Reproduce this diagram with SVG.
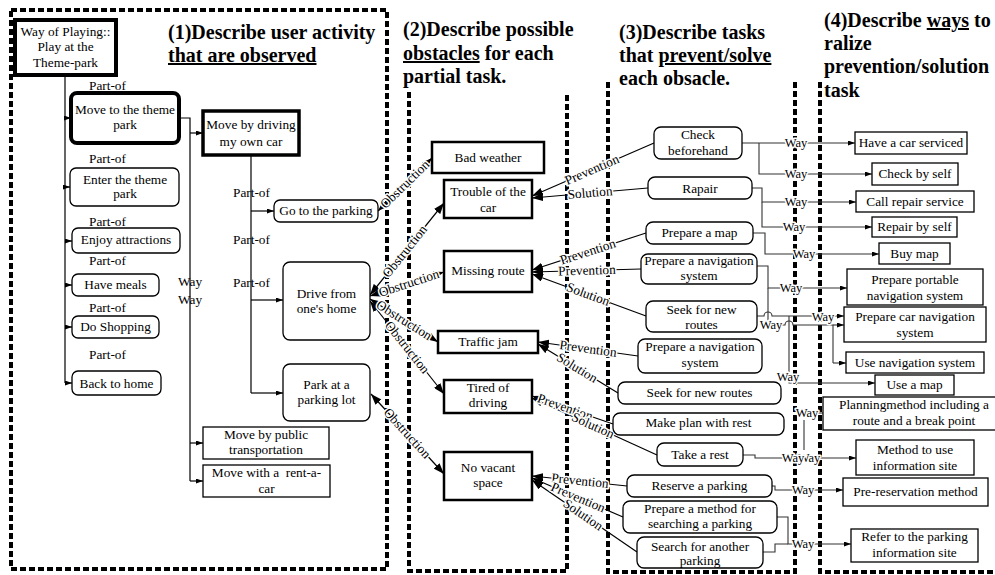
<svg xmlns="http://www.w3.org/2000/svg" width="995" height="575" viewBox="0 0 995 575">
<style>
.t{font-family:"Liberation Serif","Times New Roman",serif;font-size:13.3px;fill:#000}
.c{text-anchor:middle}
.h{font-family:"Liberation Serif","Times New Roman",serif;font-size:20px;font-weight:bold;fill:#000}
.u{text-decoration:underline}
.fr{fill:none;stroke:#000;stroke-width:4;stroke-dasharray:6 3}
.b{fill:#fff;stroke:#000;stroke-width:1.3}
.k4{stroke-width:4}
.k3{stroke-width:3.5}
.k2{stroke-width:2.5}
.ln{fill:none;stroke:#000;stroke-width:1.2}
.wl{fill:none;stroke:#333;stroke-width:1.1}
.lb{paint-order:stroke;stroke:#fff;stroke-width:3px;stroke-linejoin:round}
.wy{font-size:12.5px}
</style>
<defs>
<marker id="sa" viewBox="0 0 10 10" refX="10" refY="5" markerWidth="7" markerHeight="5" markerUnits="userSpaceOnUse" orient="auto" preserveAspectRatio="none"><path d="M0,0L10,5L0,10z" fill="#000"/></marker>
<marker id="ba" viewBox="0 0 10 10" refX="10" refY="5" markerWidth="11" markerHeight="8" markerUnits="userSpaceOnUse" orient="auto-start-reverse" preserveAspectRatio="none"><path d="M0,0L10,5L0,10z" fill="#000"/></marker>
</defs>
<rect width="995" height="575" fill="#fff"/>

<g id="frames">
<path class="fr" d="M11,10 H387 V569 H11 Z"/>
<path class="fr" d="M409,92 V571 H567 V92"/>
<path class="fr" d="M608,82 V572 H795 V82"/>
<path class="fr" d="M820,82 V572 H995"/>
</g>

<g id="titles">
<text class="h" x="168" y="39">(1)Describe user activity</text>
<text class="h u" x="168" y="62">that are observed</text>
<text class="h" x="403" y="36">(2)Describe possible</text>
<text class="h" x="403" y="60"><tspan class="u">obstacles</tspan> for each</text>
<text class="h" x="403" y="83">partial task.</text>
<text class="h" x="619" y="39">(3)Describe tasks</text>
<text class="h" x="619" y="62">that <tspan class="u">prevent/solve</tspan></text>
<text class="h" x="619" y="85">each obsacle.</text>
<text class="h" x="824" y="27">(4)Describe <tspan class="u">ways</tspan> to</text>
<text class="h" x="824" y="50">ralize</text>
<text class="h" x="824" y="73">prevention/solution</text>
<text class="h" x="824" y="97">task</text>
</g>

<g id="connectors">
<!-- tree -->
<path class="ln" d="M65,75 V383"/>
<path class="ln" marker-end="url(#sa)" d="M65,118 H71"/>
<path class="ln" marker-end="url(#sa)" d="M65,187 H70"/>
<path class="ln" marker-end="url(#sa)" d="M65,241 H72"/>
<path class="ln" marker-end="url(#sa)" d="M65,285 H72"/>
<path class="ln" marker-end="url(#sa)" d="M65,327 H72"/>
<path class="ln" marker-end="url(#sa)" d="M65,383 H72"/>
<path class="ln" d="M179,118 H190 V481"/>
<path class="ln" marker-end="url(#sa)" d="M190,133 H203"/>
<path class="ln" marker-end="url(#sa)" d="M190,443 H203"/>
<path class="ln" marker-end="url(#sa)" d="M190,481 H203"/>
<path class="ln" d="M251,155 V393"/>
<path class="ln" marker-end="url(#sa)" d="M251,211 H274"/>
<path class="ln" marker-end="url(#sa)" d="M251,300 H283"/>
<path class="ln" marker-end="url(#sa)" d="M251,393 H283"/>
<g class="t">
<text x="89" y="90">Part-of</text>
<text x="89" y="163">Part-of</text>
<text x="89" y="226">Part-of</text>
<text x="89" y="265">Part-of</text>
<text x="89" y="312">Part-of</text>
<text x="89" y="359">Part-of</text>
<text x="233" y="197">Part-of</text>
<text x="233" y="244">Part-of</text>
<text x="233" y="287">Part-of</text>
<text x="178" y="286">Way</text>
<text x="178" y="304">Way</text>
</g>

<!-- obstruction -->
<path class="ln" marker-start="url(#ba)" marker-end="url(#ba)" d="M378,211 L432,158"/>
<path class="ln" marker-start="url(#ba)" marker-end="url(#ba)" d="M370,295 L444,203"/>
<path class="ln" marker-start="url(#ba)" marker-end="url(#ba)" d="M370,296 L444,272"/>
<path class="ln" marker-start="url(#ba)" marker-end="url(#ba)" d="M370,299 L438,342"/>
<path class="ln" marker-start="url(#ba)" marker-end="url(#ba)" d="M370,301 L444,394"/>
<path class="ln" marker-start="url(#ba)" marker-end="url(#ba)" d="M371,394 L444,474"/>
<g class="t c lb">
<text transform="translate(405,184.5) rotate(-44.5)" y="4">Obstruction</text>
<text transform="translate(405,251.5) rotate(-51.2)" y="4">Obstruction</text>
<text transform="translate(409,283.4) rotate(-18)" y="4">Obstruction</text>
<text transform="translate(404,320.5) rotate(32.3)" y="4">Obstruction</text>
<text transform="translate(407,347.5) rotate(51.5)" y="4">Obstruction</text>
<text transform="translate(407,433.5) rotate(47.6)" y="4">Obstruction</text>
</g>

<!-- prevention / solution -->
<path class="ln" marker-end="url(#ba)" d="M654,143 L532,196"/>
<path class="ln" marker-end="url(#ba)" d="M648,188 L532,198"/>
<path class="ln" marker-end="url(#ba)" d="M646,233 L532,270"/>
<path class="ln" marker-end="url(#ba)" d="M641,269 L532,272"/>
<path class="ln" marker-end="url(#ba)" d="M646,316 L532,274"/>
<path class="ln" marker-end="url(#ba)" d="M638,356 L538,342"/>
<path class="ln" marker-end="url(#ba)" d="M618,393 L538,344"/>
<path class="ln" marker-end="url(#ba)" d="M613,424 L532,396"/>
<path class="ln" marker-end="url(#ba)" d="M657,455 L532,398"/>
<path class="ln" marker-end="url(#ba)" d="M627,486 L532,476"/>
<path class="ln" marker-end="url(#ba)" d="M623,517 L532,478"/>
<path class="ln" marker-end="url(#ba)" d="M637,552 L532,480"/>
<g class="t c lb">
<text transform="translate(592,170) rotate(-23.5)" y="4">Prevention</text>
<text transform="translate(590,193) rotate(-4.9)" y="4">Solution</text>
<text transform="translate(588,252) rotate(-18)" y="4">Prevention</text>
<text transform="translate(587,270.7) rotate(-1.6)" y="4">Prevention</text>
<text transform="translate(588,294.6) rotate(20.2)" y="4">Solution</text>
<text transform="translate(588,349) rotate(8)" y="4">Prevention</text>
<text transform="translate(577,368) rotate(31.5)" y="4">Solution</text>
<text transform="translate(565,407.4) rotate(19)" y="4">Prevention</text>
<text transform="translate(593,425.8) rotate(24.5)" y="4">Solution</text>
<text transform="translate(580,481) rotate(6)" y="4">Prevention</text>
<text transform="translate(578,497.7) rotate(23.2)" y="4">Prevention</text>
<text transform="translate(583,515) rotate(34.4)" y="4">Solution</text>
</g>

<!-- way -->
<path class="wl" marker-end="url(#sa)" d="M742,143 H855"/>
<path class="wl" marker-end="url(#sa)" d="M759,143 V174 H872"/>
<path class="wl" marker-end="url(#sa)" d="M752,188 H762 V202 H856"/>
<path class="wl" marker-end="url(#sa)" d="M762,202 V227 H872"/>
<path class="wl" marker-end="url(#sa)" d="M753,233 H765 V254 H879"/>
<path class="wl" marker-end="url(#sa)" d="M757,266 H768 V288 H847"/>
<path class="wl" d="M768,288 V325 H785 a4,4 0 0 1 8,0 H833 V363"/>
<path class="wl" marker-end="url(#sa)" d="M833,325 H844"/>
<path class="wl" marker-end="url(#sa)" d="M833,363 H846"/>
<path class="wl" marker-end="url(#sa)" d="M757,316 H764 a4,4 0 0 1 8,0 H844"/>
<path class="wl" marker-end="url(#sa)" d="M789,316 V383 H875"/>
<path class="wl" d="M804,420 V450"/>
<path class="wl" d="M817,413 H823"/>
<path class="wl" marker-end="url(#sa)" d="M743,455 H755 V458 H856"/>
<path class="wl" marker-end="url(#sa)" d="M772,486 H775 V490 H843"/>
<path class="wl" marker-end="url(#sa)" d="M777,517 H788 V544 H851"/>
<path class="wl" d="M763,552 H775 V544 H788"/>
<g class="t c lb wy">
<text x="796" y="147">Way</text>
<text x="796" y="178">Way</text>
<text x="796" y="206">Way</text>
<text x="794" y="231">Way</text>
<text x="804" y="258">Way</text>
<text x="791" y="292">Way</text>
<text x="823" y="321">Way</text>
<text x="771" y="329">Way</text>
<text x="788" y="381">Way</text>
<text x="807" y="417">Way</text>
<text x="809" y="462">Way</text>
<text x="793" y="462">Way</text>
<text x="803" y="494">Way</text>
<text x="803" y="548">Way</text>
</g>
</g>

<!-- column 1 -->
<g id="n-play"><rect class="b k4" x="15" y="20" width="101" height="55"/><text class="t c" x="65.5" y="36">Way of Playing::</text><text class="t c" x="65.5" y="51">Play at the</text><text class="t c" x="65.5" y="67">Theme-park</text></g>
<g id="n-move-theme"><rect class="b k4" x="71" y="93" width="108" height="50" rx="6"/><text class="t c" x="125" y="114">Move to the theme</text><text class="t c" x="125" y="129">park</text></g>
<g id="n-enter"><rect class="b" x="70" y="168" width="109" height="38" rx="6"/><text class="t c" x="125" y="184">Enter the theme</text><text class="t c" x="125" y="198">park</text></g>
<g id="n-enjoy"><rect class="b" x="72" y="228" width="108" height="25" rx="6"/><text class="t c" x="126" y="244">Enjoy attractions</text></g>
<g id="n-meals"><rect class="b" x="72" y="274" width="87" height="22" rx="6"/><text class="t c" x="115.5" y="289">Have meals</text></g>
<g id="n-shopping"><rect class="b" x="72" y="316" width="87" height="22" rx="6"/><text class="t c" x="115.5" y="331">Do Shopping</text></g>
<g id="n-home"><rect class="b" x="72" y="371" width="89" height="24" rx="6"/><text class="t c" x="116.5" y="388">Back to home</text></g>
<g id="n-drive-own"><rect class="b k3" x="203" y="111" width="96" height="44"/><text class="t c" x="251" y="129">Move by driving</text><text class="t c" x="251" y="146">my own car</text></g>
<g id="n-goto-parking"><rect class="b" x="274" y="200" width="104" height="22" rx="6"/><text class="t c" x="326" y="215">Go to the parking</text></g>
<g id="n-drive-home"><rect class="b" x="283" y="262" width="87" height="78" rx="7"/><text class="t c" x="326.5" y="298">Drive from</text><text class="t c" x="326.5" y="313">one's home</text></g>
<g id="n-park-lot"><rect class="b" x="283" y="364" width="87" height="57" rx="7"/><text class="t c" x="326.5" y="389">Park at a</text><text class="t c" x="326.5" y="404">parking lot</text></g>
<g id="n-public"><rect class="b" x="203" y="427" width="126" height="32"/><text class="t c" x="266" y="439">Move by public</text><text class="t c" x="266" y="454">transportation</text></g>
<g id="n-rent"><rect class="b" x="203" y="465" width="127" height="32"/><text class="t c" x="266.5" y="477" xml:space="preserve">Move with a  rent-a-</text><text class="t c" x="266.5" y="493">car</text></g>

<!-- column 2 -->
<g id="o-weather"><rect class="b k2" x="432" y="142" width="112" height="31"/><text class="t c" x="488" y="162">Bad weather</text></g>
<g id="o-trouble"><rect class="b k2" x="444" y="180" width="88" height="38"/><text class="t c" x="488" y="196">Trouble of the</text><text class="t c" x="488" y="212">car</text></g>
<g id="o-missing"><rect class="b k2" x="444" y="251" width="88" height="41"/><text class="t c" x="488" y="275">Missing route</text></g>
<g id="o-traffic"><rect class="b k2" x="438" y="331" width="100" height="22"/><text class="t c" x="488" y="346">Traffic jam</text></g>
<g id="o-tired"><rect class="b k2" x="444" y="380" width="88" height="33"/><text class="t c" x="488" y="392">Tired of</text><text class="t c" x="488" y="407">driving</text></g>
<g id="o-novacant"><rect class="b k2" x="444" y="452" width="88" height="48"/><text class="t c" x="488" y="472">No vacant</text><text class="t c" x="488" y="487">space</text></g>

<!-- column 3 -->
<g id="t-check"><rect class="b" x="654" y="127" width="88" height="32" rx="7"/><text class="t c" x="698" y="139">Check</text><text class="t c" x="698" y="155">beforehand</text></g>
<g id="t-repair"><rect class="b" x="648" y="177" width="104" height="22" rx="7"/><text class="t c" x="700" y="193">Rapair</text></g>
<g id="t-map"><rect class="b" x="646" y="222" width="107" height="22" rx="7"/><text class="t c" x="699.5" y="237">Prepare a map</text></g>
<g id="t-nav1"><rect class="b" x="641" y="254" width="116" height="30" rx="7"/><text class="t c" x="699" y="265">Prepare a navigation</text><text class="t c" x="699" y="280">system</text></g>
<g id="t-seek1"><rect class="b" x="646" y="301" width="111" height="31" rx="7"/><text class="t c" x="701.5" y="314">Seek for new</text><text class="t c" x="701.5" y="329">routes</text></g>
<g id="t-nav2"><rect class="b" x="638" y="339" width="124" height="34" rx="7"/><text class="t c" x="700" y="351">Prepare a navigation</text><text class="t c" x="700" y="367">system</text></g>
<g id="t-seek2"><rect class="b" x="618" y="382" width="163" height="22" rx="7"/><text class="t c" x="699.5" y="397">Seek for new routes</text></g>
<g id="t-plan"><rect class="b" x="613" y="413" width="171" height="22" rx="7"/><text class="t c" x="698.5" y="427">Make plan with rest</text></g>
<g id="t-rest"><rect class="b" x="657" y="443" width="86" height="23" rx="7"/><text class="t c" x="700" y="459">Take a rest</text></g>
<g id="t-reserve"><rect class="b" x="627" y="475" width="145" height="22" rx="7"/><text class="t c" x="699.5" y="490">Reserve a parking</text></g>
<g id="t-method"><rect class="b" x="623" y="501" width="154" height="32" rx="7"/><text class="t c" x="700" y="513">Prepare a method for</text><text class="t c" x="700" y="528">searching a parking</text></g>
<g id="t-search"><rect class="b" x="637" y="537" width="126" height="31" rx="7"/><text class="t c" x="700" y="551">Search for another</text><text class="t c" x="700" y="565">parking</text></g>

<!-- column 4 -->
<g id="w-serviced"><rect class="b" x="855" y="132" width="112" height="22"/><text class="t c" x="911" y="147">Have a car serviced</text></g>
<g id="w-checkself"><rect class="b" x="872" y="163" width="86" height="22"/><text class="t c" x="915" y="178">Check by self</text></g>
<g id="w-callrepair"><rect class="b" x="856" y="191" width="118" height="21"/><text class="t c" x="915" y="206">Call repair service</text></g>
<g id="w-repairself"><rect class="b" x="872" y="217" width="85" height="20"/><text class="t c" x="914.5" y="231">Repair by self</text></g>
<g id="w-buymap"><rect class="b" x="879" y="243" width="71" height="21"/><text class="t c" x="914.5" y="258">Buy map</text></g>
<g id="w-portable"><rect class="b" x="847" y="269" width="136" height="36"/><text class="t c" x="915" y="284">Prepare portable</text><text class="t c" x="915" y="300">navigation system</text></g>
<g id="w-carnav"><rect class="b" x="844" y="307" width="142" height="35"/><text class="t c" x="915" y="321">Prepare car navigation</text><text class="t c" x="915" y="337">system</text></g>
<g id="w-usenav"><rect class="b" x="846" y="352" width="138" height="21"/><text class="t c" x="915" y="367">Use navigation system</text></g>
<g id="w-usemap"><rect class="b" x="875" y="375" width="79" height="20"/><text class="t c" x="914.5" y="389">Use a map</text></g>
<g id="w-planning"><rect class="b" x="823" y="397" width="175" height="33"/><text class="t c" x="914" y="409">Planningmethod including a</text><text class="t c" x="914" y="425">route and a break point</text></g>
<g id="w-infosite"><rect class="b" x="856" y="440" width="118" height="35"/><text class="t c" x="915" y="454">Method to use</text><text class="t c" x="915" y="470">information site</text></g>
<g id="w-prereserve"><rect class="b" x="843" y="478" width="145" height="28"/><text class="t c" x="915.5" y="496">Pre-reservation method</text></g>
<g id="w-refer"><rect class="b" x="851" y="529" width="127" height="33"/><text class="t c" x="914.5" y="541">Refer to the parking</text><text class="t c" x="914.5" y="557">information site</text></g>
</svg>
